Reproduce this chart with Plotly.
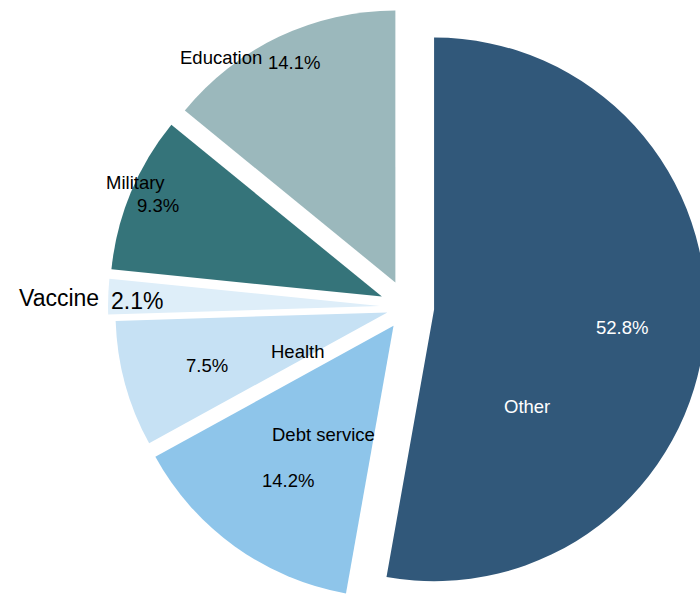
import plotly.graph_objects as go

# Budget shares (percent of total)
categories = ["Other", "Debt service", "Health", "Vaccine", "Military", "Education"]
shares = [52.8, 14.2, 7.5, 2.1, 9.3, 14.1]
slice_colors = ["#31587A", "#8EC5EA", "#C6E1F4", "#DEEEF9", "#35747A", "#9BB8BC"]
pulls = [0.1, 0.085, 0.075, 0.1, 0.1, 0.1]
text_colors = ["white", "black", "black", "black", "black", "black"]
text_sizes = [18.5, 18.5, 18.5, 23, 18.5, 18.5]

# Category name placement (paper coordinates)
label_x = [0.6917, 0.3674, 0.3243, -0.0559, 0.0655, 0.2029]
label_y = [0.3328, 0.2876, 0.4264, 0.515, 0.709, 0.918]

# Percentage placement (paper coordinates)
pct_x = [0.8427, 0.3099, 0.1800, 0.0682, 0.1022, 0.3195]
pct_y = [0.4649, 0.2102, 0.4018, 0.5100, 0.6689, 0.9085]

FONT = "Arial, Liberation Sans, sans-serif"

fig = go.Figure(
    go.Pie(
        labels=categories,
        values=shares,
        sort=False,
        direction="clockwise",
        rotation=0,
        pull=pulls,
        marker=dict(colors=slice_colors, line=dict(width=0)),
        textinfo="none",
        showlegend=False,
        hoverinfo="label+percent",
    )
)

total = sum(shares)
for name, v, lx, ly, px, py, size, color in zip(
    categories, shares, label_x, label_y, pct_x, pct_y, text_sizes, text_colors
):
    fig.add_annotation(
        text=name, x=lx, y=ly, xref="paper", yref="paper",
        xanchor="center", yanchor="middle", showarrow=False,
        font=dict(family=FONT, size=size, color=color),
    )
    fig.add_annotation(
        text=f"{100 * v / total:.1f}%", x=px, y=py, xref="paper", yref="paper",
        xanchor="center", yanchor="middle", showarrow=False,
        font=dict(family=FONT, size=size, color=color),
    )

fig.update_layout(
    width=720,
    height=614,
    margin=dict(l=94, r=0, t=8, b=8),
    paper_bgcolor="white",
    plot_bgcolor="white",
    font=dict(family=FONT),
)

fig.write_html("out.html")
